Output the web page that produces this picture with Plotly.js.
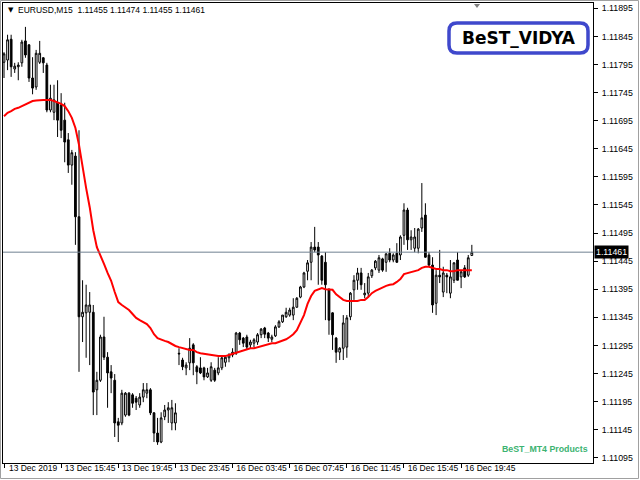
<!DOCTYPE html>
<html>
<head>
<meta charset="utf-8">
<script src="https://cdn.plot.ly/plotly-3.0.1.min.js"></script>
<style>
html,body{margin:0;padding:0;background:#fff;}
#chart{width:640px;height:480px;}
</style>
</head>
<body>
<div id="chart"></div>
<script>
// EURUSD M15, 13 Dec 2019 11:45 .. 16 Dec 2019 20:45 (bar index 0..131)
var openP = [1.11799,1.11803,1.11840,1.11787,1.11791,1.11798,1.11837,1.11830,1.11771,1.11755,
1.11799,1.11807,1.11794,1.11714,1.11710,1.11727,1.11723,1.11696,1.11661,1.11616,
1.11632,1.11524,1.11346,1.11353,1.11354,1.11354,1.11216,1.11233,1.11310,1.11274,
1.11248,1.11233,1.11159,1.11157,1.11171,1.11210,1.11207,1.11201,1.11189,1.11203,
1.11210,1.11216,1.11175,1.11139,1.11123,1.11168,1.11180,1.11157,1.11157,1.11281,
1.11269,1.11255,1.11264,1.11296,1.11257,1.11255,1.11255,1.11239,1.11233,1.11251,
1.11246,1.11255,1.11265,1.11273,1.11278,1.11281,1.11317,1.11308,1.11310,1.11296,
1.11299,1.11301,1.11314,1.11326,1.11317,1.11306,1.11312,1.11328,1.11337,1.11346,
1.11349,1.11349,1.11363,1.11381,1.11399,1.11427,1.11443,1.11470,1.11470,1.11454,
1.11443,1.11394,1.11353,1.11308,1.11283,1.11290,1.11292,1.11346,1.11394,1.11411,
1.11424,1.11385,1.11388,1.11419,1.11433,1.11429,1.11449,1.11443,1.11459,1.11447,
1.11459,1.11456,1.11491,1.11536,1.11483,1.11468,1.11468,1.11504,1.11527,1.11456,
1.11438,1.11370,1.11420,1.11390,1.11420,1.11388,1.11411,1.11447,1.11417,1.11433,
1.11420,1.11455];
var highP = [1.11817,1.11848,1.11848,1.11798,1.11799,1.11839,1.11862,1.11831,1.11808,1.11821,
1.11837,1.11808,1.11798,1.11759,1.11759,1.11767,1.11744,1.11727,1.11673,1.11643,
1.11639,1.11678,1.11411,1.11403,1.11390,1.11367,1.11248,1.11314,1.11346,1.11283,
1.11260,1.11244,1.11166,1.11216,1.11212,1.11212,1.11210,1.11205,1.11210,1.11228,
1.11228,1.11219,1.11176,1.11166,1.11176,1.11189,1.11194,1.11198,1.11192,1.11290,
1.11273,1.11265,1.11308,1.11299,1.11260,1.11274,1.11257,1.11255,1.11265,1.11255,
1.11274,1.11274,1.11278,1.11281,1.11290,1.11319,1.11319,1.11310,1.11314,1.11305,
1.11308,1.11317,1.11326,1.11328,1.11319,1.11314,1.11331,1.11340,1.11349,1.11362,
1.11362,1.11379,1.11381,1.11401,1.11426,1.11447,1.11479,1.11506,1.11479,1.11456,
1.11461,1.11397,1.11354,1.11310,1.11292,1.11349,1.11349,1.11390,1.11420,1.11433,
1.11433,1.11406,1.11424,1.11431,1.11447,1.11456,1.11451,1.11459,1.11468,1.11459,
1.11477,1.11491,1.11548,1.11540,1.11500,1.11504,1.11504,1.11584,1.11548,1.11461,
1.11452,1.11429,1.11465,1.11435,1.11424,1.11447,1.11443,1.11461,1.11429,1.11438,
1.11456,1.11474];
var lowP = [1.11771,1.11785,1.11773,1.11780,1.11767,1.11791,1.11807,1.11764,1.11742,1.11750,
1.11796,1.11780,1.11710,1.11710,1.11696,1.11666,1.11664,1.11621,1.11602,1.11581,
1.11474,1.11248,1.11301,1.11273,1.11260,1.11171,1.11171,1.11230,1.11269,1.11184,
1.11210,1.11132,1.11123,1.11153,1.11168,1.11169,1.11184,1.11180,1.11184,1.11194,
1.11201,1.11171,1.11123,1.11118,1.11121,1.11162,1.11157,1.11144,1.11144,1.11260,
1.11251,1.11242,1.11251,1.11242,1.11226,1.11244,1.11233,1.11237,1.11230,1.11230,
1.11242,1.11251,1.11257,1.11265,1.11274,1.11278,1.11296,1.11292,1.11287,1.11290,
1.11292,1.11296,1.11308,1.11308,1.11301,1.11301,1.11310,1.11326,1.11335,1.11344,
1.11346,1.11340,1.11362,1.11379,1.11397,1.11411,1.11411,1.11461,1.11403,1.11403,
1.11340,1.11314,1.11287,1.11264,1.11269,1.11269,1.11273,1.11340,1.11376,1.11394,
1.11394,1.11379,1.11381,1.11415,1.11429,1.11424,1.11426,1.11426,1.11443,1.11443,
1.11442,1.11447,1.11474,1.11465,1.11465,1.11461,1.11459,1.11497,1.11451,1.11435,
1.11353,1.11349,1.11406,1.11381,1.11388,1.11379,1.11406,1.11411,1.11397,1.11415,
1.11417,1.11455];
var closeP = [1.11814,1.11839,1.11791,1.11792,1.11794,1.11835,1.11812,1.11771,1.11753,1.11815,
1.11815,1.11798,1.11714,1.11735,1.11732,1.11696,1.11678,1.11657,1.11616,1.11638,
1.11524,1.11346,1.11354,1.11367,1.11367,1.11212,1.11233,1.11310,1.11274,1.11246,
1.11237,1.11157,1.11153,1.11210,1.11210,1.11171,1.11192,1.11194,1.11203,1.11216,
1.11216,1.11175,1.11139,1.11123,1.11166,1.11180,1.11184,1.11184,1.11175,1.11280,
1.11257,1.11260,1.11290,1.11264,1.11248,1.11246,1.11239,1.11246,1.11257,1.11233,
1.11255,1.11273,1.11274,1.11278,1.11283,1.11317,1.11305,1.11299,1.11292,1.11301,
1.11305,1.11314,1.11324,1.11315,1.11308,1.11310,1.11328,1.11337,1.11349,1.11354,
1.11358,1.11363,1.11379,1.11399,1.11424,1.11442,1.11470,1.11465,1.11456,1.11411,
1.11403,1.11340,1.11314,1.11283,1.11290,1.11335,1.11344,1.11388,1.11411,1.11424,
1.11403,1.11388,1.11417,1.11429,1.11445,1.11451,1.11429,1.11458,1.11447,1.11456,
1.11443,1.11488,1.11536,1.11483,1.11488,1.11488,1.11502,1.11522,1.11452,1.11438,
1.11367,1.11420,1.11417,1.11424,1.11417,1.11417,1.11442,1.11411,1.11426,1.11417,
1.11451,1.11461];
var vidya = [1.11703,1.11709,1.11712,1.11716,1.11718,1.11721,1.11725,1.11728,1.11730,1.11731,
1.11732,1.11732,1.11732,1.11732,1.11730,1.11728,1.11725,1.11721,1.11712,1.11700,
1.11682,1.11652,1.11611,1.11575,1.11541,1.11500,1.11470,1.11456,1.11440,1.11424,
1.11410,1.11390,1.11372,1.11367,1.11363,1.11358,1.11351,1.11344,1.11340,1.11337,
1.11333,1.11326,1.11315,1.11308,1.11305,1.11303,1.11301,1.11297,1.11294,1.11292,
1.11290,1.11289,1.11287,1.11287,1.11283,1.11281,1.11280,1.11278,1.11278,1.11276,
1.11276,1.11276,1.11276,1.11278,1.11280,1.11283,1.11285,1.11287,1.11289,1.11290,
1.11290,1.11292,1.11294,1.11296,1.11297,1.11299,1.11299,1.11301,1.11303,1.11306,
1.11310,1.11315,1.11322,1.11335,1.11349,1.11369,1.11383,1.11392,1.11395,1.11397,
1.11395,1.11394,1.11394,1.11386,1.11381,1.11376,1.11374,1.11374,1.11374,1.11374,
1.11376,1.11376,1.11381,1.11388,1.11392,1.11395,1.11399,1.11401,1.11403,1.11404,
1.11408,1.11413,1.11422,1.11424,1.11426,1.11427,1.11429,1.11433,1.11435,1.11435,
1.11433,1.11431,1.11431,1.11429,1.11429,1.11427,1.11427,1.11429,1.11429,1.11429,
1.11429,1.11429];
var timeLabels = ["13 Dec 2019","13 Dec 15:45","13 Dec 19:45","13 Dec 23:45","16 Dec 03:45",
"16 Dec 07:45","16 Dec 11:45","16 Dec 15:45","16 Dec 19:45"];
var barsPerLabel = 16;
var symbolText = "EURUSD,M15  1.11455 1.11474 1.11455 1.11461";
var lastPrice = 1.11461;
var indicatorName = "BeST_VIDYA";
var brandText = "BeST_MT4 Products";

var idx = openP.map(function(_, i){ return i; });
var tickIdx = timeLabels.map(function(_, k){ return k * barsPerLabel; });

var FONT = "Liberation Sans, Arial, sans-serif";

var traces = [
  {
    type: "candlestick",
    x: idx, open: openP, high: highP, low: lowP, close: closeP,
    increasing: {line: {color: "#000000", width: 1}, fillcolor: "#ffffff"},
    decreasing: {line: {color: "#000000", width: 1}, fillcolor: "#000000"},
    whiskerwidth: 0,
    hoverinfo: "skip",
    showlegend: false
  },
  {
    type: "scatter", mode: "lines",
    x: idx, y: vidya,
    line: {color: "#ff0000", width: 2},
    hoverinfo: "skip",
    showlegend: false
  }
];

// plot area: px 3..593 horizontally, 3..463 vertically
function px2paperX(px){ return (px - 3) / 590; }
function px2paperY(py){ return 1 - (py - 3) / 460; }

var bx0 = px2paperX(449), bx0r = px2paperX(457), bx1r = px2paperX(580), bx1 = px2paperX(588);
var by0 = px2paperY(23), by0r = px2paperY(31), by1r = px2paperY(45), by1 = px2paperY(53);
var boxPath = "M" + bx0r + "," + by0 + " L" + bx1r + "," + by0 +
  " Q" + bx1 + "," + by0 + " " + bx1 + "," + by0r +
  " L" + bx1 + "," + by1r +
  " Q" + bx1 + "," + by1 + " " + bx1r + "," + by1 +
  " L" + bx0r + "," + by1 +
  " Q" + bx0 + "," + by1 + " " + bx0 + "," + by1r +
  " L" + bx0 + "," + by0r +
  " Q" + bx0 + "," + by0 + " " + bx0r + "," + by0 + " Z";

var triPath = "M" + px2paperX(474) + "," + px2paperY(4) + " L" + px2paperX(480) + "," + px2paperY(4) +
  " L" + px2paperX(477) + "," + px2paperY(8) + " Z";

var layout = {
  width: 640, height: 480,
  margin: {l: 3, r: 47, t: 3, b: 17, pad: 0},
  paper_bgcolor: "#ffffff", plot_bgcolor: "#ffffff",
  showlegend: false,
  hovermode: false,
  xaxis: {
    type: "linear",
    range: [-0.28, 164.93],
    tickmode: "array", tickvals: tickIdx, ticktext: timeLabels,
    ticks: "outside", ticklen: 4, tickcolor: "#000", tickwidth: 1,
    ticklabelshift: 29,
    ticklabelstandoff: -7,
    showline: true, mirror: true, linecolor: "#000", linewidth: 1,
    showgrid: false, zeroline: false,
    rangeslider: {visible: false},
    tickfont: {family: FONT, size: 8.5, color: "#000"},
    fixedrange: true
  },
  yaxis: {
    side: "right",
    range: [1.110857, 1.119045],
    tickmode: "linear", tick0: 1.11095, dtick: 0.0005, tickformat: ".5f",
    ticks: "outside", ticklen: 4, tickcolor: "#000", tickwidth: 1,
    ticklabelstandoff: 2,
    showline: true, mirror: true, linecolor: "#000", linewidth: 1,
    showgrid: false, zeroline: false,
    tickfont: {family: FONT, size: 8.8, color: "#000"},
    fixedrange: true
  },
  shapes: [
    {type: "line", xref: "paper", yref: "y", x0: 0, x1: 1, y0: lastPrice, y1: lastPrice,
     line: {color: "#708090", width: 1}},
    {type: "path", xref: "paper", yref: "paper", path: boxPath,
     fillcolor: "#ffffff", line: {color: "#3f48cc", width: 3.5}},
    {type: "path", xref: "paper", yref: "paper", path: triPath,
     fillcolor: "#7f7f7f", line: {color: "#7f7f7f", width: 0}},
    {type: "rect", xref: "paper", yref: "paper",
     x0: px2paperX(0.5), x1: px2paperX(638.5), y0: px2paperY(478.5), y1: px2paperY(0.5),
     line: {color: "#a0a0a0", width: 1}, fillcolor: "rgba(0,0,0,0)"}
  ],
  annotations: [
    {xref: "paper", yref: "paper", x: px2paperX(6), y: px2paperY(10), xanchor: "left", yanchor: "middle",
     text: "▼", showarrow: false, font: {family: "DejaVu Sans", size: 7, color: "#000"}},
    {xref: "paper", yref: "paper", x: px2paperX(16), y: px2paperY(10), xanchor: "left", yanchor: "middle",
     text: symbolText, showarrow: false, font: {family: FONT, size: 8.5, color: "#000"}},
    {xref: "paper", yref: "paper", x: px2paperX(518.5), y: px2paperY(38), xanchor: "center", yanchor: "middle",
     text: indicatorName, showarrow: false, font: {family: "DejaVu Sans", size: 17, color: "#000", weight: 600}},
    {xref: "paper", yref: "paper", x: px2paperX(590), y: px2paperY(449), xanchor: "right", yanchor: "middle",
     text: "<b>" + brandText + "</b>", showarrow: false, font: {family: FONT, size: 8.8, color: "#3cb371"}},
    {xref: "paper", yref: "y", x: 1, y: lastPrice, xanchor: "left", yanchor: "middle", xshift: 1,
     text: lastPrice.toFixed(5), showarrow: false, bgcolor: "#000000", borderpad: 1,
     font: {family: FONT, size: 8.8, color: "#ffffff"}}
  ]
};

Plotly.newPlot("chart", traces, layout, {displayModeBar: false, staticPlot: true});
</script>
</body>
</html>
